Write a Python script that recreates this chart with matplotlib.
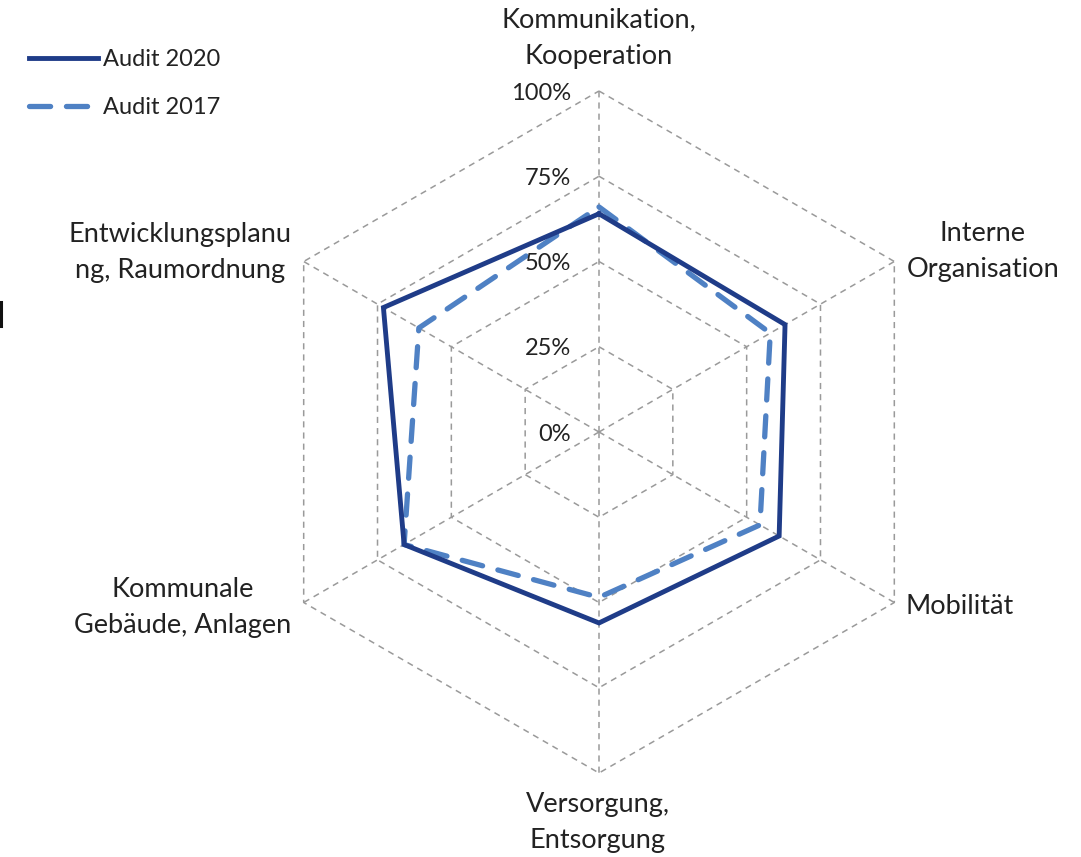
import numpy as np
import matplotlib
matplotlib.use("Agg")
from matplotlib import pyplot as plt
from matplotlib.lines import Line2D

# Achsen (im Uhrzeigersinn ab oben)
categories = [
    "Kommunikation,\nKooperation",
    "Interne\nOrganisation",
    "Mobilität",
    "Versorgung,\nEntsorgung",
    "Kommunale\nGebäude, Anlagen",
    "Entwicklungsplanu\nng, Raumordnung",
]
audit_2020 = [0.64, 0.63, 0.61, 0.56, 0.66, 0.73]
audit_2017 = [0.66, 0.58, 0.545, 0.485, 0.66, 0.61]
ring_levels = [0.25, 0.5, 0.75, 1.0]
ring_labels = ["0%", "25%", "50%", "75%", "100%"]

plt.rcParams["font.family"] = ["Lato", "DejaVu Sans"]

angles = np.deg2rad(90 - np.arange(len(categories)) * 60)


def to_xy(values):
    v = np.asarray(values)
    x = v * np.cos(angles)
    y = v * np.sin(angles)
    return np.append(x, x[0]), np.append(y, y[0])


fig = plt.figure(figsize=(10.81, 8.57), dpi=100)
ax = fig.add_axes([0, 0, 1, 1])
ax.set_xlim(-599 / 341, (1081 - 599) / 341)
ax.set_ylim(-(857 - 432) / 341, 432 / 341)
ax.axis("off")

grid_kw = dict(color="#9a9a9a", lw=1.1, linestyle=(0, (4, 3.3)), zorder=1)
for r in ring_levels:
    gx, gy = to_xy([r] * len(categories))
    ax.plot(gx, gy, **grid_kw)
for a in angles:
    ax.plot([0, np.cos(a)], [0, np.sin(a)], **grid_kw)

# Prozentbeschriftung an der oberen Achse
for i, lab in enumerate(ring_labels):
    ax.text(-0.082, i * 0.25 - 0.006, lab, ha="right", va="center",
            fontsize=17, color="#222222")

x20, y20 = to_xy(audit_2020)
x17, y17 = to_xy(audit_2017)
ax.plot(x20, y20, color="#1f3c88", lw=3.5, solid_joinstyle="miter",
        label="Audit 2020", zorder=3)
ax.plot(x17, y17, color="#4f81c4", lw=3.8, linestyle=(0, (4, 3)),
        dash_capstyle="round", label="Audit 2017", zorder=2)

label_pos = [(0.0, 1.155), (1.126, 0.528), (1.059, -0.513),
             (-0.003, -1.144), (-1.22, -0.516), (-1.229, 0.525)]
for (lx, ly), lab in zip(label_pos, categories):
    ax.text(lx, ly, lab, ha="center", va="center", fontsize=19.5,
            color="#222222", linespacing=1.55)

# abgeschnittener Rest am linken Rand
fig.add_artist(Line2D([0.0012, 0.0012], [(857 - 302) / 857, (857 - 326) / 857],
                      color="#111111", lw=2.2, transform=fig.transFigure))

leg = ax.legend(loc="upper left", bbox_to_anchor=(0.012, 0.962), frameon=False,
                fontsize=17, handlelength=2.9, handletextpad=0.2,
                labelspacing=1.15, borderpad=0.2)
for t in leg.get_texts():
    t.set_color("#222222")

fig.savefig("out.png", dpi=100)
